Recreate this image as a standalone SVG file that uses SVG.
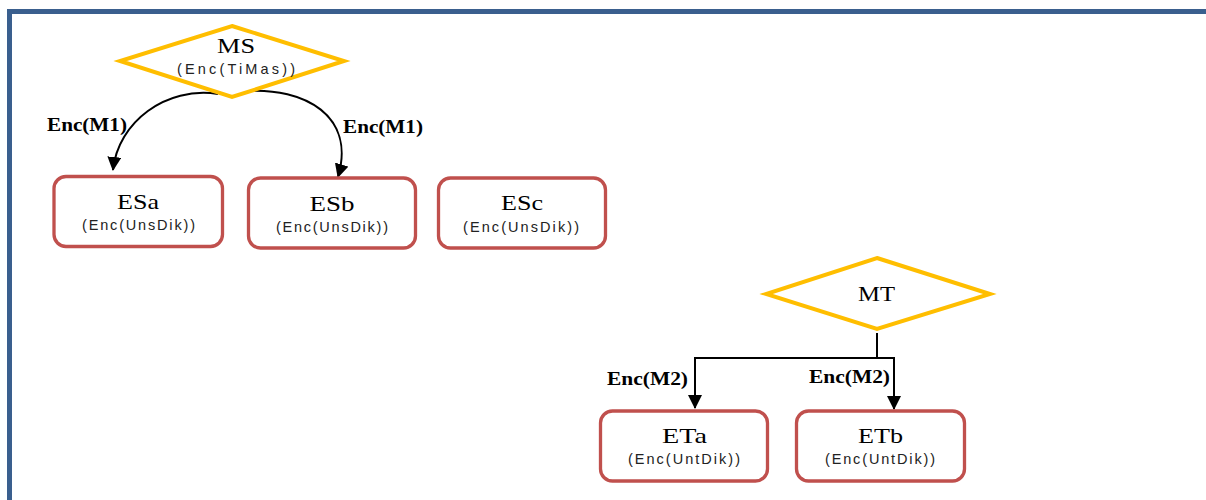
<svg xmlns="http://www.w3.org/2000/svg" width="1206" height="500" viewBox="0 0 1206 500">
<style>
.frame{fill:none;stroke:#3A5F8E;stroke-width:5}
.dia{fill:#FFFFFF;stroke:#FFBE00;stroke-width:4;stroke-linejoin:miter}
.box{fill:#FFFFFF;stroke:#C0504D;stroke-width:3.3}
.title{font-family:"Liberation Serif","Times New Roman",serif;font-size:22px;fill:#000;text-anchor:middle}
.sub{font-family:"Liberation Sans",Arial,sans-serif;font-size:14.5px;fill:#222;text-anchor:middle}
.lbl{font-family:"Liberation Serif","Times New Roman",serif;font-size:18px;font-weight:bold;fill:#000}
.conn{fill:none;stroke:#000;stroke-width:2}
</style>
<defs>
<marker id="arr" viewBox="0 0 14 14" refX="13" refY="7" markerWidth="14" markerHeight="14" markerUnits="userSpaceOnUse" orient="auto">
<path d="M0,0 L14,7 L0,14 z" fill="#000"/>
</marker>
</defs>
<rect x="0" y="0" width="1206" height="500" fill="#FFFFFF"/>
<path class="frame" d="M9.5,500 V11.5 H1206"/>

<g id="connectors">
<path class="conn" d="M218,94 C166,86 118,122 113,170" marker-end="url(#arr)"/>
<path class="conn" d="M245,91 C305,87 356,116 338,177" marker-end="url(#arr)"/>
<path class="conn" d="M877,333 V358 M694,358 H895"/>
<path class="conn" d="M695,358 V408" marker-end="url(#arr)"/>
<path class="conn" d="M894,358 V409" marker-end="url(#arr)"/>
<text class="lbl" x="47" y="131" textLength="80" lengthAdjust="spacingAndGlyphs">Enc(M1)</text>
<text class="lbl" x="343" y="133" textLength="80" lengthAdjust="spacingAndGlyphs">Enc(M1)</text>
<text class="lbl" x="607" y="385" textLength="81" lengthAdjust="spacingAndGlyphs">Enc(M2)</text>
<text class="lbl" x="809" y="383" textLength="81" lengthAdjust="spacingAndGlyphs">Enc(M2)</text>
</g>

<g id="MS">
<polygon class="dia" points="232,26 344,61 232,97 120,61"/>
<text class="title" x="236" y="53" textLength="38" lengthAdjust="spacingAndGlyphs">MS</text>
<text class="sub" x="236" y="74" textLength="118" lengthAdjust="spacing">(Enc(TiMas))</text>
</g>

<g id="ESa">
<rect class="box" x="54" y="176.5" width="168.5" height="70" rx="12"/>
<text class="title" x="138" y="209" textLength="42" lengthAdjust="spacingAndGlyphs">ESa</text>
<text class="sub" x="138.5" y="230" textLength="113" lengthAdjust="spacing">(Enc(UnsDik))</text>
</g>

<g id="ESb">
<rect class="box" x="248.5" y="178" width="167" height="70" rx="12"/>
<text class="title" x="332" y="211" textLength="45" lengthAdjust="spacingAndGlyphs">ESb</text>
<text class="sub" x="332" y="232" textLength="112" lengthAdjust="spacing">(Enc(UnsDik))</text>
</g>

<g id="ESc">
<rect class="box" x="438.5" y="178" width="167" height="70" rx="12"/>
<text class="title" x="522" y="210" textLength="42" lengthAdjust="spacingAndGlyphs">ESc</text>
<text class="sub" x="521" y="232" textLength="116" lengthAdjust="spacing">(Enc(UnsDik))</text>
</g>

<g id="MT">
<polygon class="dia" points="877,258 990,294 877,329 766,294"/>
<text class="title" x="876.5" y="301" textLength="37" lengthAdjust="spacingAndGlyphs">MT</text>
</g>

<g id="ETa">
<rect class="box" x="600.5" y="411" width="167" height="70" rx="12"/>
<text class="title" x="684.5" y="443" textLength="45" lengthAdjust="spacingAndGlyphs">ETa</text>
<text class="sub" x="684" y="464" textLength="112" lengthAdjust="spacing">(Enc(UntDik))</text>
</g>

<g id="ETb">
<rect class="box" x="796.5" y="411" width="168" height="70" rx="12"/>
<text class="title" x="880.5" y="443" textLength="45" lengthAdjust="spacingAndGlyphs">ETb</text>
<text class="sub" x="880" y="464" textLength="110" lengthAdjust="spacing">(Enc(UntDik))</text>
</g>
</svg>
